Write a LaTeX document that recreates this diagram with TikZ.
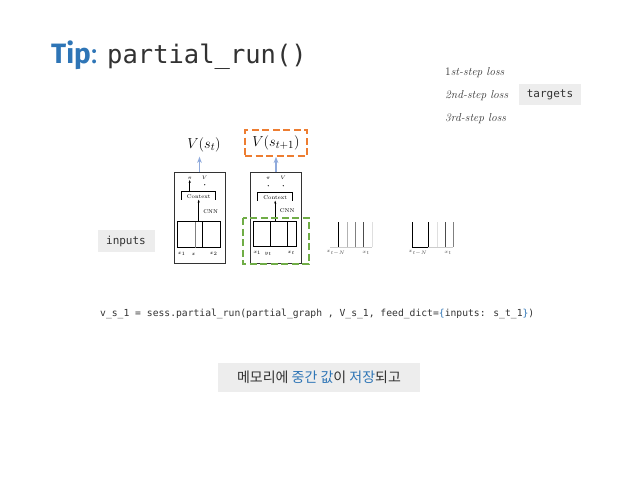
\documentclass[tikz,border=0pt]{standalone}
\usepackage{amsmath}
\usepackage{fontspec}
\usepackage{xcolor}
\usetikzlibrary{arrows.meta,positioning,calc}
\newfontfamily\krfont{Noto Sans CJK KR}
\newfontfamily\codefont{DejaVu Sans Mono}
\newfontfamily\tipfont{Fira Sans}
\definecolor{tipblue}{RGB}{46,117,182}
\definecolor{inkgray}{RGB}{50,50,50}
\definecolor{tagfill}{RGB}{237,237,237}
\definecolor{upblue}{RGB}{143,170,220}
\definecolor{boxorange}{RGB}{237,125,49}
\definecolor{boxgreen}{RGB}{112,173,71}

\begin{document}
\begin{tikzpicture}[x=1pt, y=-1pt,
  tag/.style={fill=tagfill, text=inkgray, inner sep=0pt, font=\codefont\fontsize{11}{13}\selectfont},
  loss/.style={anchor=base west, text=inkgray, inner sep=0pt, font=\fontsize{11.5}{13}\selectfont},
  frame/.style={draw=black!80, line width=0.6pt, minimum width=51pt, minimum height=91pt, inner sep=0pt},
  tiny/.style={inner sep=0pt, font=\fontsize{5.5}{6}\selectfont},
  uparr/.style={-{Stealth[length=2.2mm]}, line width=1.1pt, draw=upblue},
  inarr/.style={-{Stealth[length=1mm]}, line width=0.5pt},
  dashbox/.style={dashed, dash pattern=on 7pt off 3.5pt, line width=1.6pt}]
  \useasboundingbox (0,0) rectangle (638,479);
  \node[anchor=base west, inner sep=0pt, text=tipblue, font=\tipfont\fontsize{28}{30}\selectfont] (tip) at (51,63) {\bfseries Tip\mdseries:};
  \node[anchor=base west, inner sep=0pt, text=inkgray, font=\codefont\fontsize{25.5}{28}\selectfont] (fn) at (107,63) {partial\_run()};

  \node[loss] (l1) at (445,75) {1\textit{st-step loss}};
  \node[loss] (l2) at (445,98) {\textit{2nd-step loss}};
  \node[loss] (l3) at (445,121) {\textit{3rd-step loss}};
  \node[tag, minimum width=62pt, minimum height=21pt] (targets) at (550,94.5) {targets};
  \node[tag, minimum width=57pt, minimum height=22pt] (inputs) at (126,241) {inputs};

  \node[inner sep=0pt, font=\fontsize{15}{17}\selectfont] (vt) at (204,145) {$V(s_t)$};
  \node[draw=boxorange, dashbox, minimum width=62pt, minimum height=26pt, inner sep=0pt,
        font=\fontsize{15}{17}\selectfont] (vt1) at (276,143) {$V(s_{t+1})$};

  \node[frame] (f1) at (199.5,217.5) {};
  \node[frame] (f2) at (276,217.5) {};
  \draw[uparr] (f1.north) -- ++(0,-15) coordinate (a1);
  \draw[uparr] (f2.north) -- (vt1.south);

  \begin{scope}[shift={(f1.north west)}]
    \node[tiny] (pi1) at (16,7) {$\pi$};
    \node[tiny] (v1) at (31,6) {$V$};
    \draw[inarr] (16,20) -- (pi1.south);
    \fill (31,13) circle (0.6pt);
    \draw[line width=0.5pt] (8,28) -- (8,20) -- (42,20) -- (42,28);
    \node[tiny] (ctx1) at (25,25) {Context};
    \draw[line width=0.6pt] (4,50) rectangle (47,76);
    \draw[gray, line width=0.6pt] (22,50) -- (22,76);
    \draw[line width=0.6pt] (29,50) -- (29,76);
    \draw[inarr] (25,50) -- (25,28);
    \node[tiny] (cnn1) at (37,40) {CNN};
    \node[tiny] at (8,82) {$x_1$};
    \node[tiny] at (20,83) {$x$};
    \node[tiny] at (40,82) {$x_2$};
  \end{scope}

  \begin{scope}[shift={(f2.north west)}]
    \node[tiny] (pi2) at (18,7) {$\pi$};
    \node[tiny] (v2) at (33,6) {$V$};
    \fill (18,14) circle (0.6pt);
    \fill (33,14) circle (0.6pt);
    \draw[line width=0.5pt] (7,29) -- (7,21) -- (42,21) -- (42,29);
    \node[tiny] (ctx2) at (25,25.5) {Context};
    \draw[line width=0.6pt] (3,50) rectangle (46,75);
    \draw[line width=0.6pt] (20,50) -- (20,75);
    \draw[line width=0.6pt] (37,50) -- (37,75);
    \draw[inarr] (25,50) -- (25,29);
    \node[tiny] (cnn2) at (37,39) {CNN};
    \node[tiny] at (7,81) {$x_1$};
    \node[tiny] at (18,82) {$y_t$};
    \node[tiny] at (41,81) {$x_t$};
  \end{scope}
  \draw[draw=boxgreen, dashbox] (243,218) rectangle (309,264);

  \draw[gray!40, line width=0.6pt] (330,247) -- (372,247);
  \foreach \x/\c in {338/black, 347/gray!60, 355/gray, 363/black!70, 372/gray!25}
    \draw[\c, line width=0.8pt] (\x,222) -- (\x,247);
  \node[tiny, black!70] (xn1) at (336,253) {$x_{t-N}$};
  \node[tiny, black!70] (xt1) at (366,253) {$x_t$};

  \draw[black, line width=0.6pt] (412,247) -- (428,247);
  \draw[gray!40, line width=0.6pt] (428,247) -- (453,247);
  \foreach \x/\c in {412/black, 428/black, 437/gray!25, 445/black!70, 453/gray}
    \draw[\c, line width=0.8pt] (\x,222) -- (\x,247);
  \node[tiny, black!70] (xn2) at (418,253) {$x_{t-N}$};
  \node[tiny, black!70] (xt2) at (448,253) {$x_t$};

  \node[anchor=base west, inner sep=0pt, text=inkgray, font=\codefont\fontsize{9.7}{12}\selectfont] (code) at (100,316)
    {v\_s\_1 = sess.partial\_run(partial\_graph , V\_s\_1, feed\_dict=\textcolor{tipblue}{\{}inputs: s\_t\_1\textcolor{tipblue}{\}})};

  \node[fill=tagfill, text=inkgray, minimum width=202pt, minimum height=29pt, inner sep=0pt,
        font=\krfont\fontsize{14}{16}\selectfont] (memo) at (319,377.5)
    {메모리에 \textcolor{tipblue}{중간} \textcolor{tipblue}{값}이 \textcolor{tipblue}{저장}되고};
\end{tikzpicture}
\end{document}
